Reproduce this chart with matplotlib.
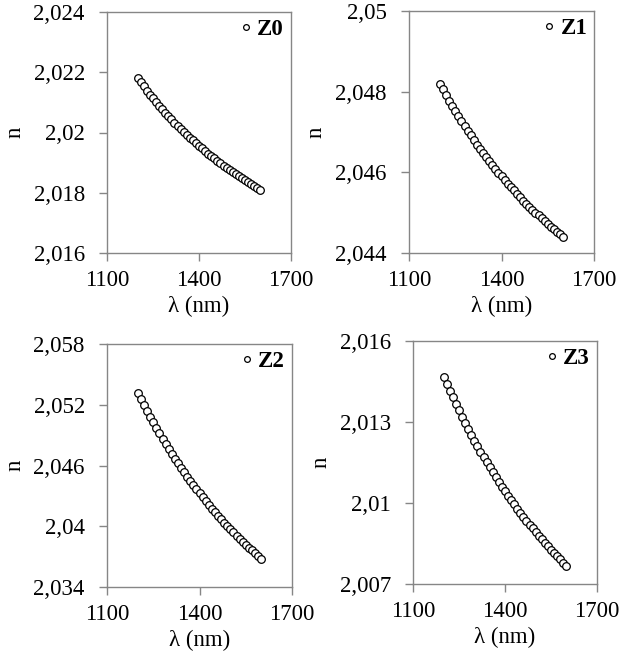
import matplotlib
matplotlib.use('Agg')
import matplotlib.pyplot as plt
from matplotlib.ticker import FuncFormatter

plt.rcParams['font.family'] = ['Liberation Serif', 'DejaVu Serif']

wl = [1200, 1210, 1220, 1230, 1240, 1250, 1260, 1270, 1280, 1290,
      1300, 1310, 1320, 1330, 1340, 1350, 1360, 1370, 1380, 1390,
      1400, 1410, 1420, 1430, 1440, 1450, 1460, 1470, 1480, 1490,
      1500, 1510, 1520, 1530, 1540, 1550, 1560, 1570, 1580, 1590, 1600]

n_z0 = [2.02180, 2.02166, 2.02153, 2.02139, 2.02126, 2.02114, 2.02101, 2.02089, 2.02078, 2.02066,
        2.02055, 2.02044, 2.02033, 2.02023, 2.02013, 2.02003, 2.01993, 2.01983, 2.01974, 2.01965,
        2.01956, 2.01947, 2.01938, 2.01930, 2.01922, 2.01914, 2.01906, 2.01898, 2.01890, 2.01883,
        2.01876, 2.01868, 2.01861, 2.01855, 2.01848, 2.01841, 2.01835, 2.01828, 2.01822, 2.01816, 2.01810]

n_z1 = [2.04820, 2.04806, 2.04792, 2.04778, 2.04765, 2.04752, 2.04739, 2.04727, 2.04715, 2.04703,
        2.04692, 2.04680, 2.04669, 2.04659, 2.04648, 2.04638, 2.04628, 2.04618, 2.04608, 2.04599,
        2.04590, 2.04581, 2.04572, 2.04563, 2.04555, 2.04546, 2.04538, 2.04530, 2.04522, 2.04515,
        2.04507, 2.04500, 2.04493, 2.04486, 2.04479, 2.04472, 2.04465, 2.04459, 2.04452, 2.04446, 2.04440]

n_z2 = [2.05320, 2.05258, 2.05198, 2.05139, 2.05082, 2.05026, 2.04971, 2.04918, 2.04866, 2.04815,
        2.04766, 2.04717, 2.04669, 2.04623, 2.04578, 2.04533, 2.04490, 2.04447, 2.04406, 2.04365,
        2.04325, 2.04286, 2.04248, 2.04211, 2.04175, 2.04139, 2.04104, 2.04070, 2.04036, 2.04003,
        2.03970, 2.03939, 2.03908, 2.03877, 2.03847, 2.03818, 2.03790, 2.03761, 2.03734, 2.03707, 2.03680]

n_z3 = [2.01468, 2.01442, 2.01416, 2.01391, 2.01366, 2.01343, 2.01319, 2.01297, 2.01274, 2.01253,
        2.01231, 2.01211, 2.01190, 2.01171, 2.01151, 2.01132, 2.01114, 2.01096, 2.01078, 2.01061,
        2.01044, 2.01027, 2.01011, 2.00995, 2.00979, 2.00964, 2.00949, 2.00934, 2.00920, 2.00906,
        2.00892, 2.00879, 2.00865, 2.00852, 2.00840, 2.00827, 2.00815, 2.00803, 2.00791, 2.00779, 2.00768]

names = ['Z0', 'Z1', 'Z2', 'Z3']
series = [n_z0, n_z1, n_z2, n_z3]
yticks = [[2.016, 2.018, 2.02, 2.022, 2.024],
          [2.044, 2.046, 2.048, 2.05],
          [2.034, 2.04, 2.046, 2.052, 2.058],
          [2.007, 2.01, 2.013, 2.016]]
xticks = [1100, 1400, 1700]

W, H = 621, 655
# axes boxes in pixels: left, right, top, bottom
boxes = [(107, 291, 12, 253), (409, 594, 11, 253),
         (107, 292, 344, 587), (413, 597, 341, 584)]

fig = plt.figure(figsize=(W / 100, H / 100), dpi=100)
fmt = FuncFormatter(lambda v, p: ('%g' % round(v, 4)).replace('.', ','))
grey = '#868686'
fs = 16.5

for i in range(4):
    l, r, t, b = boxes[i]
    ax = fig.add_axes([l / W, 1 - b / H, (r - l) / W, (b - t) / H])
    ax.plot(wl, series[i], 'o', ms=5.5, mfc='white', mec='black', mew=0.9,
            label=names[i])
    ax.set_xlim(1100, 1700)
    ax.set_ylim(yticks[i][0], yticks[i][-1])
    ax.set_xticks(xticks)
    ax.set_yticks(yticks[i])
    ax.yaxis.set_major_formatter(fmt)
    ax.tick_params(direction='out', length=6, width=1, color=grey,
                   labelsize=fs)
    ax.tick_params(axis='y', pad=10)
    ax.tick_params(axis='x', pad=6)
    for s in ax.spines.values():
        s.set_color(grey)
        s.set_linewidth(1)
    ax.set_xlabel('λ (nm)', fontsize=fs, labelpad=4)
    ax.set_ylabel('n', fontsize=fs, labelpad=6)
    ax.legend(loc='upper right', frameon=False, handletextpad=0.15,
              handlelength=0.7, markerscale=0.75, borderaxespad=0.0,
              borderpad=0.3, prop={'weight': 'bold', 'size': fs})

fig.savefig('out.png', dpi=100)
